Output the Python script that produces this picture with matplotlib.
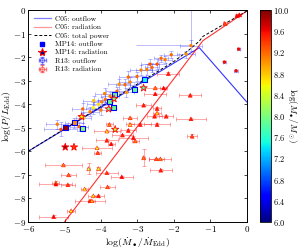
import numpy as np
import matplotlib
matplotlib.use("Agg")
import matplotlib.pyplot as plt
from matplotlib.lines import Line2D
from matplotlib.ticker import FuncFormatter, FixedLocator

plt.rcParams['font.family'] = 'serif'
plt.rcParams['font.serif'] = ['cmr10', 'DejaVu Serif']
plt.rcParams['mathtext.fontset'] = 'cm'
plt.rcParams['axes.unicode_minus'] = False

# C05 model lines
c05_out_x = [-6.0, -1.3, 0.0]
c05_out_y = [-6.0, -1.6, -3.9]
c05_rad_x = [-5.0, -1.2, 0.0]
c05_rad_y = [-9.0, -1.3, -0.05]
c05_tot_x = [-6.0, -2.0, -1.6, -1.3, -1.2, 0.0]
c05_tot_y = [-6.0, -2.19, -1.72, -1.32, -1.12, -0.05]

# MP14 outflow (squares) and radiation (stars)
mp_out_x = [-4.98, -4.74, -4.50, -3.77, -3.66, -3.62, -3.08, -2.81]
mp_out_y = [-5.00, -4.78, -5.02, -3.88, -4.12, -3.60, -3.38, -2.96]
mp_out_m = [9.9, 9.0, 8.1, 7.9, 7.9, 7.9, 7.9, 7.5]
mp_rad_x = [-4.98, -4.74, -4.53, -3.79, -3.64, -3.61, -2.83]
mp_rad_y = [-5.82, -5.82, -4.53, -4.20, -3.77, -5.07, -3.31]
mp_rad_m = [9.9, 9.4, 8.6, 7.9, 7.9, 8.3, 7.8]

# R13 radiation
r_rad_x = [-3.84, -3.84, -3.72, -4.11, -4.09, -3.41, -3.11, -3.06, -2.83, -2.48,
           -2.37, -2.36, -5.03, -4.34, -4.07, -4.89, -3.84, -3.43, -5.24, -5.24,
           -4.91, -4.45, -3.82, -4.21, -4.07, -4.30, -4.25, -4.82, -5.30, -2.51,
           -2.51, -2.28, -1.55, -2.83, -2.46, -2.46, -2.53, -2.21, -3.20, -3.20,
           -3.77, -2.92, -2.46, -3.25, -1.53, -1.50, -2.15, -0.27, -0.20, -0.60]
r_rad_y = [-5.14, -5.53, -5.68, -5.85, -6.06, -5.31, -5.42, -5.56, -6.27, -6.32,
           -6.32, -6.80, -6.58, -6.73, -6.73, -7.00, -6.91, -7.08, -7.33, -7.39,
           -7.42, -7.60, -7.51, -7.89, -7.89, -8.10, -8.10, -8.52, -8.77, -3.56,
           -3.31, -3.31, -3.62, -4.04, -4.18, -4.37, -4.51, -4.51, -4.58, -4.86,
           -4.86, -4.86, -4.86, -5.11, -4.62, -5.35, -2.70, -0.24, -0.20, -0.57]
r_rad_xe = [0.35, 0.30, 0.10, 0.40, 0.10, 0.30, 0.40, 0.10, 0.05, 0.20,
            0.30, 0.30, 0.50, 0.05, 0.05, 0.20, 0.30, 0.30, 0.10, 0.45,
            0.20, 0.10, 0.20, 0.15, 0.15, 0.40, 0.10, 0.10, 0.40, 0.30,
            0.30, 0.10, 0.30, 0.20, 0.10, 0.10, 0.20, 0.20, 0.20, 0.10,
            0.10, 0.30, 0.35, 0.20, 0.40, 0.15, 0.30, 0.05, 0.05, 0.05]
r_rad_ye = [0.05, 0.05, 0.05, 0.05, 0.05, 0.05, 0.05, 0.05, 0.35, 0.05,
            0.05, 0.05, 0.05, 0.25, 0.05, 0.05, 0.05, 0.05, 0.05, 0.05,
            0.05, 0.05, 0.05, 0.05, 0.05, 0.05, 0.05, 0.05, 0.05, 0.05,
            0.05, 0.05, 0.05, 0.05, 0.05, 0.05, 0.05, 0.05, 0.05, 0.05,
            0.05, 0.05, 0.05, 0.05, 0.05, 0.10, 0.05, 0.05, 0.05, 0.05]
r_rad_m = [8.7, 9.5, 9.6, 8.5, 9.3, 9.5, 9.6, 9.1, 9.1, 9.2,
           9.0, 9.5, 9.1, 8.3, 8.5, 9.2, 9.4, 9.6, 8.2, 9.6,
           9.4, 8.6, 9.2, 8.6, 9.5, 9.5, 8.8, 8.6, 9.6, 9.6,
           9.1, 9.6, 9.5, 9.5, 9.5, 8.7, 9.5, 9.5, 9.1, 8.7,
           9.1, 9.5, 9.5, 9.5, 9.5, 9.3, 9.5, 9.6, 9.6, 9.3]

# R13 outflow
r_out_x = [-5.10, -4.75, -4.48, -4.30, -4.21, -4.07, -3.98, -3.88, -3.75, -3.56,
           -3.34, -3.20, -3.01, -2.74, -2.60, -2.46, -2.24, -4.50, -4.20, -3.90,
           -3.50, -3.25, -2.90, -2.65, -2.35, -4.00, -3.30, -4.60, -5.20, -1.53,
           -1.66, -2.07, -0.22, -0.61, -0.29]
r_out_y = [-5.07, -4.79, -4.58, -4.32, -4.15, -4.01, -3.90, -3.80, -3.66, -3.45,
           -3.17, -3.06, -2.82, -2.53, -2.44, -2.30, -2.11, -4.20, -3.85, -3.55,
           -3.15, -2.85, -2.55, -2.30, -2.05, -4.25, -3.50, -4.95, -4.85, -1.51,
           -1.87, -1.90, -1.66, -2.21, -2.58]
r_out_xe = [0.45, 0.25, 0.20, 0.25, 0.20, 0.30, 0.25, 0.20, 0.25, 0.30,
            0.25, 0.30, 0.25, 0.30, 0.20, 0.25, 0.20, 0.30, 0.30, 0.25,
            0.30, 0.25, 0.30, 0.25, 0.20, 0.25, 0.20, 0.25, 0.30, 0.30,
            0.25, 0.20, 0.05, 0.05, 0.05]
r_out_ye = [0.30, 0.20, 0.20, 0.20, 0.25, 0.20, 0.20, 0.25, 0.20, 0.20,
            0.25, 0.20, 0.20, 0.25, 0.20, 0.20, 0.15, 0.25, 0.20, 0.25,
            0.20, 0.25, 0.20, 0.20, 0.15, 0.20, 0.20, 0.20, 0.20, 0.25,
            0.15, 0.15, 0.05, 0.05, 0.05]
r_out_m = [9.3, 9.1, 8.7, 9.1, 8.6, 8.7, 9.1, 9.2, 9.1, 9.2,
           9.2, 9.1, 9.2, 9.1, 9.2, 9.3, 9.1, 9.2, 8.8, 9.1,
           9.0, 9.2, 9.1, 9.3, 9.2, 9.1, 9.0, 9.2, 9.1, 9.1,
           9.0, 9.2, 9.6, 9.6, 9.6]

# big error bar on one R13 outflow source
big_x, big_y = -1.53, -1.48
big_xerr = [[1.52], [0.0]]
big_yerr = [[0.0], [1.6]]

cmap = plt.get_cmap('jet')
vmin, vmax = 6.0, 10.0

fig = plt.figure(figsize=(2.99, 2.5), dpi=100)
ax = fig.add_axes([0.094, 0.112, 0.731, 0.848])
cax = fig.add_axes([0.868, 0.112, 0.039, 0.848])

ax.plot(c05_out_x, c05_out_y, color='b', lw=0.8, alpha=0.8, zorder=2)
ax.plot(c05_rad_x, c05_rad_y, color='r', lw=0.8, alpha=0.8, zorder=2)
ax.plot(c05_tot_x, c05_tot_y, color='k', lw=0.7, ls='--', dashes=(3, 2), zorder=2)

ax.errorbar(r_out_x, r_out_y, xerr=r_out_xe, yerr=r_out_ye, fmt='none',
            ecolor='b', alpha=0.3, elinewidth=0.6, capsize=1.3, capthick=0.6, zorder=3)
ax.errorbar([big_x], [big_y], xerr=big_xerr, yerr=big_yerr, fmt='none',
            ecolor='b', alpha=0.3, elinewidth=0.6, capsize=0, zorder=3)
ax.errorbar(r_rad_x, r_rad_y, xerr=r_rad_xe, yerr=r_rad_ye, fmt='none',
            ecolor='r', alpha=0.4, elinewidth=0.6, capsize=1.3, capthick=0.6, zorder=3)

ax.scatter(r_out_x, r_out_y, c=r_out_m, cmap=cmap, vmin=vmin, vmax=vmax, s=6,
           marker='o', edgecolors='none', zorder=4)
sc = ax.scatter(r_rad_x, r_rad_y, c=r_rad_m, cmap=cmap, vmin=vmin, vmax=vmax, s=8,
                marker='^', edgecolors='r', linewidths=0.3, zorder=4)
ax.scatter(mp_out_x, mp_out_y, c=mp_out_m, cmap=cmap, vmin=vmin, vmax=vmax, s=13,
           marker='s', edgecolors='b', linewidths=0.8, zorder=5)
ax.scatter(mp_rad_x, mp_rad_y, c=mp_rad_m, cmap=cmap, vmin=vmin, vmax=vmax, s=30,
           marker='*', edgecolors='r', linewidths=0.6, zorder=5)

ax.set_xlim(-6, 0)
ax.set_ylim(-9, 0)
ax.xaxis.set_major_locator(FixedLocator(np.arange(-6, 1, 1)))
ax.yaxis.set_major_locator(FixedLocator(np.arange(-9, 1, 1)))
fmt_int = FuncFormatter(lambda v, p: r'$%d$' % round(v))
ax.xaxis.set_major_formatter(fmt_int)
ax.yaxis.set_major_formatter(fmt_int)
ax.tick_params(direction='in', top=True, right=True, labelsize=6.5, length=2.5, width=0.5, pad=1.5)
for s in ax.spines.values():
    s.set_linewidth(0.7)
ax.set_xlabel(r'$\log(\dot{M}_\bullet/\dot{M}_{\rm Edd})$', fontsize=7, labelpad=0.5)
ax.set_ylabel(r'$\log(P/L_{\rm Edd})$', fontsize=7, labelpad=0)

h_out = Line2D([], [], color='b', lw=0.9, alpha=0.5)
h_rad = Line2D([], [], color='r', lw=0.9, alpha=0.4)
h_tot = Line2D([], [], color='k', lw=0.7, ls='--', dashes=(3, 2))
h_mpo = Line2D([], [], ls='none', marker='s', ms=3.5, mfc='b', mec='b')
h_mpr = Line2D([], [], ls='none', marker='*', ms=6, mfc='darkblue', mec='r', mew=0.8)
h_ro = ax.errorbar([np.nan], [np.nan], xerr=[0.1], yerr=[0.1], fmt='o', ms=3,
                   mfc='none', mec='b', ecolor='b', alpha=0.5, elinewidth=0.5, capsize=1.3)
h_rr = ax.errorbar([np.nan], [np.nan], xerr=[0.1], yerr=[0.1], fmt='o', ms=3,
                   mfc='none', mec='r', ecolor='r', alpha=0.5, elinewidth=0.5, capsize=1.3)
ax.legend([h_out, h_rad, h_tot, h_mpo, h_mpr, h_ro, h_rr],
          ['C05: outflow', 'C05: radiation', 'C05: total power', 'MP14: outflow',
           'MP14: radiation', 'R13: outflow', 'R13: radiation'],
          loc='upper left', frameon=False, fontsize=5.3, handlelength=2.3,
          labelspacing=0.3, borderaxespad=0.4, handletextpad=0.6)

cb = fig.colorbar(sc, cax=cax)
cb.set_ticks(np.arange(6.0, 10.01, 0.4))
cb.ax.yaxis.set_major_formatter(FuncFormatter(lambda v, p: r'$%.1f$' % v))
cb.ax.tick_params(labelsize=6, length=0, pad=1.5)
cb.outline.set_linewidth(0.6)
cb.set_label(r'$\log(M_\bullet/M_\odot)$', rotation=270, fontsize=6.5, labelpad=6)

fig.savefig('out.png', dpi=100)
